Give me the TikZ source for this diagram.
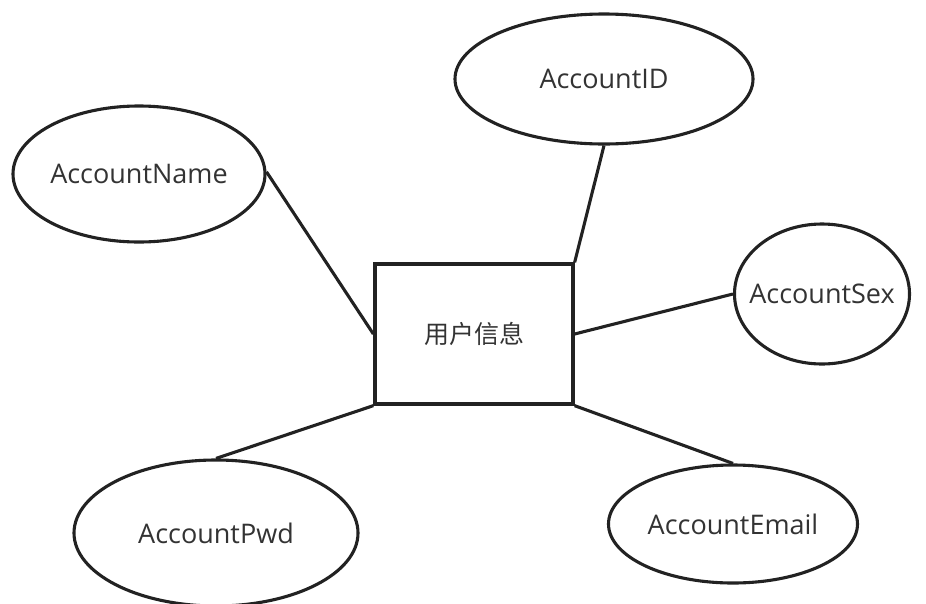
\documentclass[tikz,border=0pt]{standalone}
\usepackage{fontspec}
\setmainfont{Open Sans}
\newfontfamily\cjk{Noto Sans CJK SC}
\usetikzlibrary{shapes.geometric}
\definecolor{txt}{HTML}{333333}
\definecolor{ln}{HTML}{222222}
\tikzset{
  attr/.style={ellipse, draw=ln, line width=3.1pt, inner sep=-20pt, font=\fontsize{27}{32}\selectfont, text=txt},
  entity/.style={rectangle, draw=ln, line width=3.3pt, inner sep=0pt, font=\cjk\fontsize{25}{30}\selectfont, text=txt},
  conn/.style={draw=ln, line width=3.1pt}
}
\begin{document}
\begin{tikzpicture}[x=1pt,y=-1pt]
\useasboundingbox (0,0) rectangle (926,603);
\node[entity, minimum width=198pt, minimum height=140pt] (r) at (474,334) {用户信息};
\node[attr, minimum width=298pt, minimum height=130pt] (id) at (604,79) {AccountID};
\node[attr, minimum width=252pt, minimum height=136pt] (name) at (139,174) {AccountName};
\node[attr, minimum width=175pt, minimum height=140pt] (sex) at (822,294) {AccountSex};
\node[attr, minimum width=284pt, minimum height=146pt] (pwd) at (216,533) {AccountPwd};
\node[attr, minimum width=249pt, minimum height=118pt] (email) at (733,524) {AccountEmail};
\draw[conn] (name.1) -- (r.west);
\draw[conn] (id.south) -- (r.north east);
\draw[conn] (sex.west) -- (r.east);
\draw[conn] (pwd.north) -- (r.south west);
\draw[conn] (email.north) -- (r.south east);
\end{tikzpicture}
\end{document}
